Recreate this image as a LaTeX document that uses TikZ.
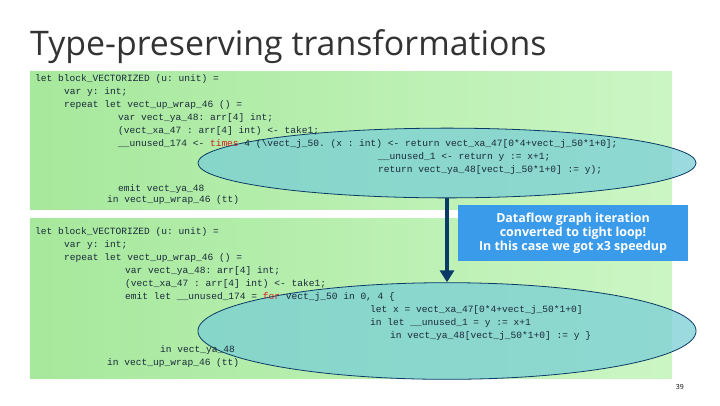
\documentclass[tikz,border=0pt]{standalone}
\usepackage{fontspec}
\setmainfont{Open Sans}
\setmonofont{Liberation Mono}
\usetikzlibrary{arrows.meta,shapes.geometric}
\definecolor{gl}{HTML}{A6E89C}
\definecolor{gr}{HTML}{CBF6C4}
\definecolor{ell}{HTML}{7ACFD6}
\definecolor{navy}{HTML}{0B3A66}
\definecolor{bluebox}{HTML}{3A9BEA}
\definecolor{codec}{HTML}{1A2A3A}
\definecolor{kw}{HTML}{D02020}
\begin{document}
\begin{tikzpicture}[x=1bp,y=-1bp,
  code/.style={anchor=west,inner sep=0pt,font=\ttfamily\fontsize{9.6}{12}\selectfont,text=codec},
  panel/.style={left color=gl,right color=gr,draw=none},
  oval/.style={draw=navy,fill=ell,fill opacity=0.75,line width=0.8pt}]
\useasboundingbox (0,0) rectangle (720,405);
\fill[white] (0,0) rectangle (720,405);
\node[anchor=west,inner sep=0pt,font=\fontsize{34}{40}\selectfont,text=black!80] (title) at (30,47) {Type-preserving transformations};
\fill[panel] (30,71) rectangle (672,209);
\fill[panel] (30,218) rectangle (672,378);
\node[oval,ellipse,minimum width=500,minimum height=70,inner sep=0pt] (e1) at (447,163) {};
\node[oval,ellipse,minimum width=500,minimum height=97,inner sep=0pt] (e2) at (447,331) {};
\draw[navy,line width=4pt,-{Triangle[length=12pt,width=14pt]}] (e1.south) -- (e2.north);
\node[fill=bluebox,text=white,font=\bfseries\fontsize{12.5}{14}\selectfont,align=center,minimum width=230,minimum height=57,inner sep=0pt] (note) at (573,233) {Dataflow graph iteration\\converted to tight loop!\\In this case we got x3 speedup};
% box 1
\node[code] (a1) at (35,79) {let block\_VECTORIZED (u: unit) =};
\node[code] (a2) at (64,92) {var y: int;};
\node[code] (a3) at (64,105) {repeat let vect\_up\_wrap\_46 () =};
\node[code] (a4) at (118,118) {var vect\_ya\_48: arr[4] int;};
\node[code] (a5) at (118,131) {(vect\_xa\_47 : arr[4] int) <- take1;};
\node[code] (a6) at (118,144) {\_\_unused\_174 <- \textcolor{kw}{times} 4 (\textbackslash vect\_j\_50. (x : int) <- return vect\_xa\_47[0*4+vect\_j\_50*1+0];};
\node[code] (a7) at (378,157) {\_\_unused\_1 <- return y := x+1;};
\node[code] (a8) at (378,170) {return vect\_ya\_48[vect\_j\_50*1+0] := y);};
\node[code] (a9) at (118,189) {emit vect\_ya\_48};
\node[code] (a10) at (107,200) {in vect\_up\_wrap\_46 (tt)};
% box 2
\node[code] (b1) at (35,232) {let block\_VECTORIZED (u: unit) =};
\node[code] (b2) at (64,245) {var y: int;};
\node[code] (b3) at (64,258) {repeat let vect\_up\_wrap\_46 () =};
\node[code] (b4) at (125,271) {var vect\_ya\_48: arr[4] int;};
\node[code] (b5) at (125,284) {(vect\_xa\_47 : arr[4] int) <- take1;};
\node[code] (b6) at (125,297) {emit let \_\_unused\_174 = \textcolor{kw}{for} vect\_j\_50 in 0, 4 \{};
\node[code] (b7) at (370,310) {let x = vect\_xa\_47[0*4+vect\_j\_50*1+0]};
\node[code] (b8) at (370,323) {in let \_\_unused\_1 = y := x+1};
\node[code] (b9) at (390,336) {in vect\_ya\_48[vect\_j\_50*1+0] := y \}};
\node[code] (b10) at (160,350) {in vect\_ya\_48};
\node[code] (b11) at (107,363) {in vect\_up\_wrap\_46 (tt)};
\node[anchor=east,inner sep=0pt,font=\fontsize{7}{8}\selectfont] (pg) at (684,387) {39};
\end{tikzpicture}
\end{document}
